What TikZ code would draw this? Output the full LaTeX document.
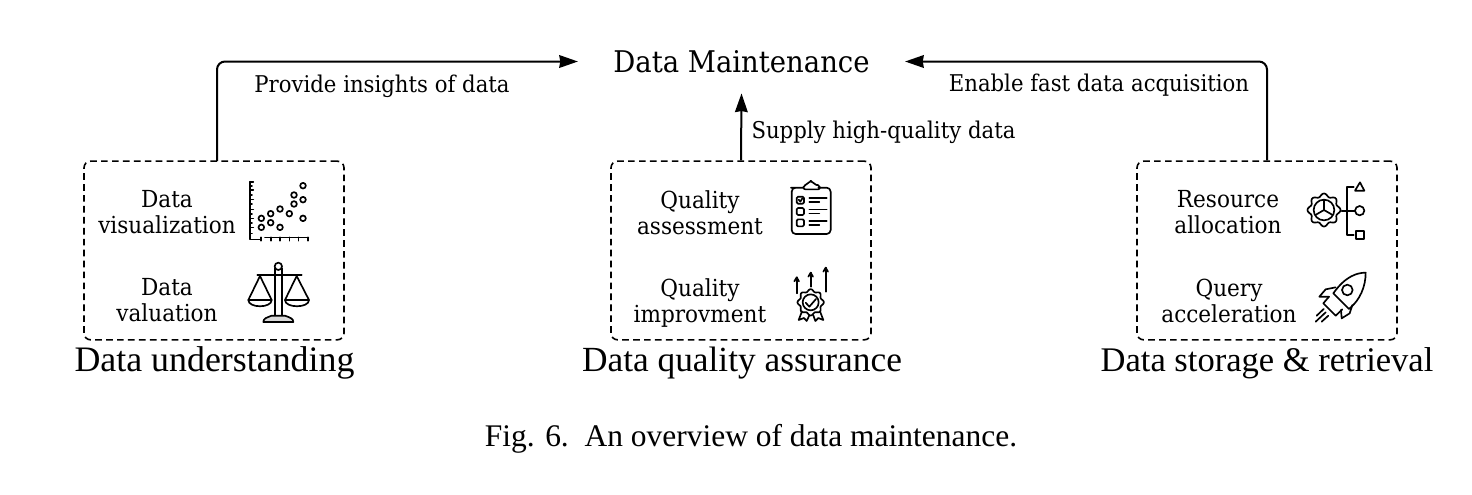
\documentclass[tikz,border=0pt]{standalone}
\usepackage{fontspec}
\usetikzlibrary{arrows.meta}
\setmainfont{DejaVu Serif}[FakeStretch=0.92]
\newfontfamily\capfont{Liberation Serif}
\tikzset{
  arrowline/.style={line width=1.5pt,rounded corners=6pt,-{Stealth[inset=0.8pt,length=14pt,width=9.5pt]}},
  groupbox/.style={draw,line width=1.2pt,dash pattern=on 5pt off 3.2pt,rounded corners=5pt,minimum width=195pt,minimum height=134pt,inner sep=0pt},
  heading/.style={minimum width=245pt,minimum height=47.5pt,inner sep=0pt,font=\fontsize{22.4}{26}\selectfont},
  flow/.style={inner sep=0pt,font=\fontsize{17.3}{20}\selectfont},
  item/.style={inner sep=0pt,align=center,font=\fontsize{17.6}{19.5}\selectfont},
  group/.style={inner sep=0pt,font=\capfont\fontsize{#1}{30}\selectfont},
  caption/.style={inner sep=0pt,font=\capfont\fontsize{23.6}{28}\selectfont},
  ic/.style={line width=1.25pt,line cap=round,line join=round},
  zoomA/.style={shift={(70,150)},x=.25pt,y=-.25pt},
  zoomB/.style={shift={(600,150)},x=.25pt,y=-.25pt},
  zoomC/.style={shift={(1125,150)},x=.25pt,y=-.25pt},
}
\begin{document}
\begin{tikzpicture}[x=.75pt,y=-.75pt]
\useasboundingbox (0,0) rectangle (1472,494);
\node[heading] (dm) at (741.5,61.5) {Data Maintenance};
\node[groupbox] (boxL) at (214,250.5) {};
\node[groupbox] (boxM) at (741,250.5) {};
\node[groupbox] (boxR) at (1267,250.5) {};
\coordinate (upL) at (217,161);
\draw[arrowline] (upL) |- (dm.west);
\draw[arrowline] (boxM.north) -- (dm.south);
\draw[arrowline] (boxR.north) |- (dm.east);
\node[flow] (t1) at (382,86) {Provide insights of data};
\node[flow] (t2) at (883.5,132) {Supply high-quality data};
\node[flow] (t3) at (1099,85) {Enable fast data acquisition};
\node[item] (a1) at (167,212) {Data\\visualization};
\node[item] (a2) at (167,300) {Data\\valuation};
\node[item] (b1) at (700,213) {Quality\\assessment};
\node[item] (b2) at (700,303) {Quality\\improvment};
\node[item] (c1) at (1228,212) {Resource\\allocation};
\node[item] (c2) at (1229,301) {Query\\acceleration};
\node[group=26.9] (g1) at (214.5,363) {Data understanding};
\node[group=26.5] (g2) at (742,363) {Data quality assurance};
\node[group=25.9] (g3) at (1267,363) {Data storage \& retrieval};
\node[caption] (cap) at (751,439) {Fig. 6.\ \ An overview of data maintenance.};
% scatter icon
\begin{scope}[zoomA,ic]
  \draw (540,95) -- (540,268) -- (572,268);
  \draw (585,262) -- (715,262);
  \foreach \y in {95,120,148,178,205,232} \draw (540,\y) -- (550,\y);
  \foreach \y in {108,134,162,192,218,250} \draw (540,\y) -- (546,\y);
  \foreach \x in {572,603,630,658,685,713} \draw (\x,262) -- (\x,272);
  \foreach \x/\y in {574/205,574/232,602/191,602/218,630/177,630/232,658/191,672/135,672/162,699/107,699/149,699/205}
    \draw (\x,\y) circle [radius=8.5];
% balance icon
  \draw (625,349) circle [radius=11];
  \draw (615,355) -- (615,497) (635,355) -- (635,497);
  \draw (562,375) -- (695,375);
  \draw (570,378) -- (535,450) (570,378) -- (605,450);
  \draw (680,378) -- (645,450) (680,378) -- (717,450);
  \draw (535,450) -- (605,450) .. controls (605,475) and (535,475) .. cycle;
  \draw (645,450) -- (717,450) .. controls (717,475) and (645,475) .. cycle;
  \draw[fill=black!15] (580,516) .. controls (580,505) and (590,503) .. (605,497) -- (645,497) .. controls (660,503) and (670,505) .. (670,516) -- cycle;
\end{scope}
% clipboard icon
\begin{scope}[zoomB,ic]
  \draw[rounded corners=3pt] (610,113) -- (585,113) -- (575,113) -- (575,252) -- (692,252) -- (692,113) -- (655,113);
  \draw[rounded corners=1.5pt] (610,118) -- (610,106) -- (622,104) -- (628,93) -- (637,93) -- (643,104) -- (660,106) -- (660,118) -- cycle;
  \foreach \y in {140,174,208} \draw[rounded corners=1pt] (590,\y) rectangle (612,\y+21);
  \draw (596,149) -- (601,155) -- (607,145);
  \foreach \y in {143,178,213} {\draw (628,\y) -- (680,\y); \draw (628,\y+12) -- (658,\y+12);}
% badge icon
  \foreach \x/\a/\b in {590/430/382,632/410/368,677/425/353} {
    \draw (\x,\a) -- (\x,\b);
    \draw (\x-7,\b+12) -- (\x,\b) -- (\x+7,\b+12);
  }
  \draw[shift={(632,457)}] plot[domain=0:360,samples=97,smooth] (\x:{36+3.5*cos(8*\x)}) -- cycle;
  \draw (632,457) circle [radius=24];
  \draw (617,458) -- (628,470) -- (648,447);
  \draw (606,484) -- (596,510) -- (612,504) -- (620,513) -- (628,496);
  \draw (640,496) -- (646,513) -- (655,504) -- (670,510) -- (660,484);
\end{scope}
% gear icon
\begin{scope}[zoomC,ic]
  \draw[shift={(597,180)}] plot[domain=0:360,samples=121,smooth] (\x:{45+4.5*cos(8*\x)}) -- cycle;
  \draw (597,180) circle [radius=31];
  \draw (597,150) -- (597,180) -- (571,195) (597,180) -- (623,195);
  \draw (650,182) -- (690,182);
  \draw (686,110) -- (666,110) -- (666,255) -- (686,255);
  \draw (705,97) -- (690,122) -- (718,122) -- cycle;
  \draw (704,182) circle [radius=14];
  \draw (692,243) rectangle (716,266);
% rocket icon
  \draw (722,368) .. controls (695,368) and (660,380) .. (625,430) -- (672,477) .. controls (705,450) and (722,410) .. cycle;
  \draw (667,420) circle [radius=16];
  \draw (632,412) -- (602,418) -- (583,440) -- (612,440);
  \draw (682,465) -- (674,490) -- (650,505) -- (648,480);
  \draw (612,440) -- (595,460) -- (632,497) -- (652,478);
  \draw (572,515) -- (602,487);
  \draw (575,497) -- (596,477);
  \draw (590,515) -- (610,497);
\end{scope}
\end{tikzpicture}
\end{document}
